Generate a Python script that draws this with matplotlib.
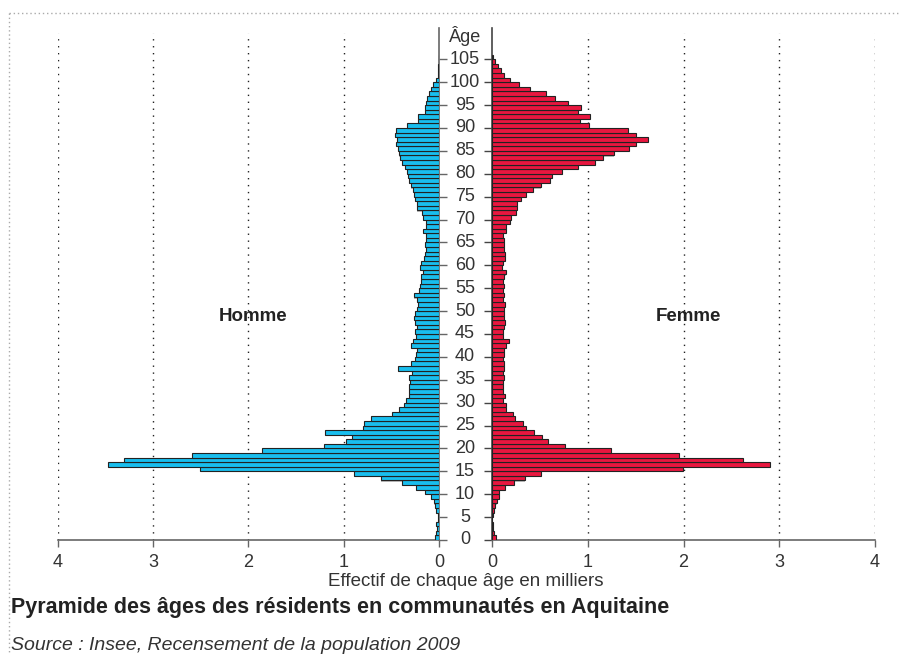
import numpy as np
import matplotlib
matplotlib.use("Agg")
import matplotlib.pyplot as plt
from matplotlib.lines import Line2D
from matplotlib.transforms import blended_transform_factory

plt.rcParams['font.family'] = ['Liberation Sans', 'DejaVu Sans']

# Ages 0..105, effectifs en milliers
ages = np.arange(0, 106)
hommes = [
    0.04, 0.03, 0.02, 0.03, 0.01, 0.01, 0.03, 0.04, 0.05, 0.08,
    0.15, 0.24, 0.39, 0.61, 0.89, 2.51, 3.47, 3.31, 2.59, 1.86,
    1.21, 0.98, 0.91, 1.20, 0.80, 0.79, 0.71, 0.49, 0.42, 0.37,
    0.35, 0.31, 0.31, 0.31, 0.30, 0.31, 0.28, 0.43, 0.29, 0.25,
    0.24, 0.23, 0.29, 0.27, 0.24, 0.25, 0.23, 0.25, 0.26, 0.25,
    0.23, 0.22, 0.23, 0.26, 0.21, 0.20, 0.19, 0.19, 0.17, 0.20,
    0.19, 0.16, 0.15, 0.14, 0.15, 0.14, 0.14, 0.17, 0.14, 0.14,
    0.17, 0.18, 0.23, 0.23, 0.25, 0.26, 0.27, 0.29, 0.31, 0.33,
    0.34, 0.36, 0.39, 0.41, 0.42, 0.43, 0.45, 0.44, 0.46, 0.45,
    0.34, 0.22, 0.22, 0.15, 0.15, 0.14, 0.13, 0.11, 0.08, 0.06,
    0.03, 0.01, 0.01, 0.01, 0.005, 0.0,
]
femmes = [
    0.04, 0.02, 0.01, 0.01, 0.005, 0.01, 0.02, 0.03, 0.05, 0.07,
    0.07, 0.14, 0.23, 0.34, 0.51, 1.99, 2.90, 2.62, 1.95, 1.24,
    0.76, 0.59, 0.52, 0.44, 0.36, 0.32, 0.24, 0.22, 0.15, 0.15,
    0.12, 0.14, 0.12, 0.12, 0.12, 0.13, 0.12, 0.13, 0.13, 0.12,
    0.13, 0.13, 0.15, 0.18, 0.12, 0.12, 0.13, 0.14, 0.13, 0.13,
    0.13, 0.14, 0.12, 0.13, 0.12, 0.13, 0.12, 0.13, 0.15, 0.10,
    0.12, 0.14, 0.14, 0.13, 0.13, 0.13, 0.12, 0.15, 0.15, 0.19,
    0.20, 0.25, 0.26, 0.26, 0.30, 0.35, 0.43, 0.51, 0.61, 0.63,
    0.73, 0.90, 1.08, 1.16, 1.27, 1.43, 1.50, 1.63, 1.50, 1.42,
    1.01, 0.92, 1.02, 0.90, 0.93, 0.79, 0.66, 0.56, 0.40, 0.28,
    0.19, 0.13, 0.09, 0.06, 0.03, 0.01,
]
age_ticks = np.arange(0, 110, 5)
x_ticks = [0, 1, 2, 3, 4]

W, H = 901, 655
fig = plt.figure(figsize=(W / 100, H / 100), dpi=100)

def fx(px):
    return px / W

def fy(py):
    return 1 - py / H

top_px, bot_px = 28, 540
ymax = (bot_px - top_px) / ((540 - 59.3) / 105)

ax_l = fig.add_axes([fx(58), fy(bot_px), fx(439) - fx(58), fy(top_px) - fy(bot_px)])
ax_r = fig.add_axes([fx(492), fy(bot_px), fx(875) - fx(492), fy(top_px) - fy(bot_px)])

blue = '#19BEEE'
red = '#E8173F'
edge = '#222222'
axis_col = '#666666'
txt = '#333333'

for ax, vals, col in ((ax_l, hommes, blue), (ax_r, femmes, red)):
    # soft shadow
    ax.barh(ages + 0.5 - 0.25, vals, height=1.0, left=0, color='#bbbbbb',
            edgecolor='none', zorder=2)
    ax.barh(ages + 0.5, vals, height=1.0, color=col, edgecolor=edge,
            linewidth=0.8, zorder=3)
    ax.set_xlim(0, 4)
    ax.set_ylim(0, ymax)
    for v in x_ticks[1:]:
        ax.axvline(v, color='#222222', lw=1.0, linestyle=(0, (1, 4)), zorder=1,
                   ymax=(bot_px - 33) / (bot_px - top_px))
    ax.set_xticks(x_ticks)
    ax.tick_params(axis='x', direction='out', length=5, width=1, color=axis_col,
                   labelsize=13, labelcolor=txt, pad=5)
    for s in ax.spines.values():
        s.set_visible(False)
    ax.spines['bottom'].set_visible(True)
    ax.spines['bottom'].set_color(axis_col)
    ax.spines['bottom'].set_linewidth(1.2)
    ax.set_facecolor('none')

ax_l.invert_xaxis()
ax_l.spines['right'].set_visible(True)
ax_l.spines['right'].set_color(axis_col)
ax_l.spines['right'].set_linewidth(1.2)
ax_l.yaxis.tick_right()
ax_l.set_yticks(age_ticks)
ax_l.tick_params(axis='y', direction='out', length=6, width=1, color=axis_col,
                 labelright=False)

ax_r.spines['left'].set_visible(True)
ax_r.spines['left'].set_color('#444444')
ax_r.spines['left'].set_linewidth(1.2)
ax_r.set_yticks(age_ticks)
ax_r.tick_params(axis='y', direction='out', length=6, width=1, color='#444444',
                 labelleft=False)

# age labels in the central column
tr = blended_transform_factory(fig.transFigure, ax_l.transData)
for a in age_ticks:
    ax_l.text(fx(465), a, str(a), transform=tr, ha='center', va='center',
              fontsize=13, color=txt, clip_on=False)
fig.text(fx(465), fy(36), 'Âge', ha='center', va='center', fontsize=13, color=txt)

ax_l.text(1.95, 48.9, 'Homme', ha='center', va='center', fontsize=13.5,
          fontweight='bold', color='#222222')
ax_r.text(2.05, 48.9, 'Femme', ha='center', va='center', fontsize=13.5,
          fontweight='bold', color='#222222')

fig.text(fx(466), fy(581), 'Effectif de chaque âge en milliers', ha='center',
         va='center', fontsize=13.5, color=txt)
fig.text(fx(11), fy(607), 'Pyramide des âges des résidents en communautés en Aquitaine',
         ha='left', va='center', fontsize=15.5, fontweight='bold', color='#222222')
fig.text(fx(11), fy(645), 'Source : Insee, Recensement de la population 2009',
         ha='left', va='center', fontsize=14, style='italic', color=txt)

# dotted frame (top and left)
fig.add_artist(Line2D([fx(9), 1.0], [fy(13), fy(13)], transform=fig.transFigure,
                      color='#aaaaaa', lw=1, linestyle=(0, (1, 2))))
fig.add_artist(Line2D([fx(9), fx(9)], [fy(13), 0.0], transform=fig.transFigure,
                      color='#aaaaaa', lw=1, linestyle=(0, (1, 2))))

fig.savefig('out.png', dpi=100)
